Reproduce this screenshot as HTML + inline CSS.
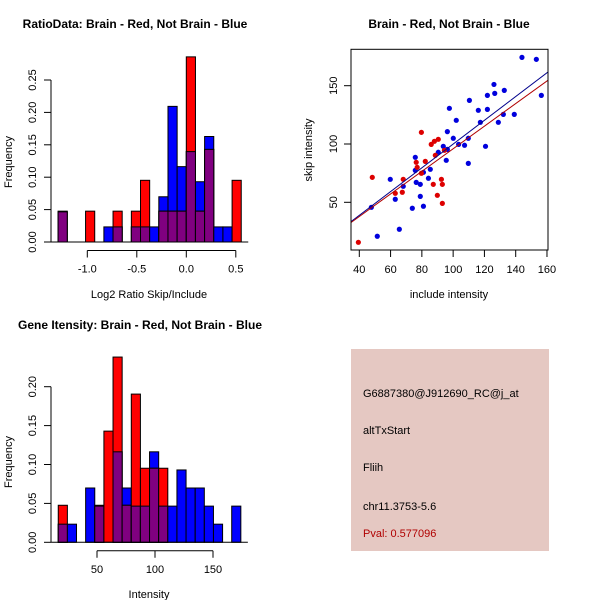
<!DOCTYPE html>
<html><head><meta charset="utf-8"><style>
body{margin:0;background:#fff;}
svg{display:block;font-family:"Liberation Sans",sans-serif;}
</style></head><body>
<svg id="c" width="600" height="600" viewBox="0 0 600 600">
<rect width="600" height="600" fill="#fff"/>
<text x="135" y="28" text-anchor="middle" font-size="12" font-weight="bold">RatioData: Brain - Red, Not Brain - Blue</text>
<text x="149" y="298" text-anchor="middle" font-size="11">Log2 Ratio Skip/Include</text>
<text transform="translate(12,162) rotate(-90)" text-anchor="middle" font-size="11">Frequency</text>
<text x="449" y="28" text-anchor="middle" font-size="12" font-weight="bold">Brain - Red, Not Brain - Blue</text>
<text x="449" y="298" text-anchor="middle" font-size="11">include intensity</text>
<text transform="translate(312,150) rotate(-90)" text-anchor="middle" font-size="11">skip intensity</text>
<text x="140" y="329" text-anchor="middle" font-size="12" font-weight="bold">Gene Itensity: Brain - Red, Not Brain - Blue</text>
<text x="149" y="598" text-anchor="middle" font-size="11">Intensity</text>
<text transform="translate(12,462) rotate(-90)" text-anchor="middle" font-size="11">Frequency</text>
<g>
<rect x="351" y="349" width="198" height="202" fill="#e5c8c2"/>
<text x="363" y="397" font-size="11">G6887380@J912690_RC@j_at</text>
<text x="363" y="434" font-size="11">altTxStart</text>
<text x="363" y="471" font-size="11">Fliih</text>
<text x="363" y="510" font-size="11">chr11.3753-5.6</text>
<text x="363" y="537" font-size="11" fill="#b00000">Pval: 0.577096</text>
</g>
</svg>
<script>
// Ratio histogram data (20 bins, -1.295 .. 0.555)
const ratioBinStart = -1.295;
const ratioBinWidth = 0.0925;
const ratioBlue = [0.0465,0,0,0,0,0.0233,0.0233,0,0.0233,0.0233,0.0233,0.0698,0.2093,0.1163,0.1395,0.0930,0.1628,0.0233,0.0233,0];
const ratioRed  = [0.0476,0,0,0.0476,0,0,0.0476,0,0.0476,0.0952,0,0.0476,0.0476,0.0476,0.2857,0.0476,0.1429,0,0,0.0952];
const ratioYTicks = [0,0.05,0.10,0.15,0.20,0.25];
const ratioYLabels = ["0.00","0.05","0.10","0.15","0.20","0.25"];
const ratioXTicks = [-1.0,-0.5,0.0,0.5];
const ratioXLabels = ["-1.0","-0.5","0.0","0.5"];
// Intensity histogram data
const intBinStart = 16.6;
const intBinWidth = 7.87;
const intBlue = [0.0233,0.0233,0,0.0698,0.0465,0,0.1163,0.0698,0.0465,0.0465,0.1163,0.0465,0.0465,0.0930,0.0698,0.0698,0.0465,0.0233,0,0.0465];
const intRed  = [0.0476,0,0,0,0.0476,0.1429,0.2381,0.0476,0.1905,0.0952,0.0952,0.0952,0,0,0,0,0,0,0,0];
const intYTicks = [0,0.05,0.10,0.15,0.20];
const intYLabels = ["0.00","0.05","0.10","0.15","0.20"];
const intXTicks = [50,100,150];
const intXLabels = ["50","100","150"];
// Scatter data
const blueX = [144.0,153.2,156.4,126.1,126.6,132.7,121.9,110.4,97.6,116.1,121.9,102,117.4,128.9,132.1,139.1,96.3,100.1,109.7,103.5,107.3,120.7,93.7,96.3,90.5,75.8,95.6,109.7,75.8,85.4,81,84.2,59.8,76.4,79,68.1,63,79,73.9,81,47.7,51.5,65.6];
const blueY = [174.3,172.6,141.7,151.1,143.4,146,141.7,137.4,130.6,128.9,129.7,120.3,118.6,118.6,125.4,125.4,110.6,104.9,104.9,99.7,98.9,98,98,95.4,92.9,88.6,86,83.4,77.4,78.3,75.7,70.6,69.7,67.1,65.4,63.7,52.6,55.1,44.9,46.6,45.7,20.9,26.9];
const redX = [39.4,48.3,79.7,90.5,88,86,88.6,82.2,76.4,77,79.7,68.1,92.5,87.3,93.1,63,67.5,89.9,93.1,94.4];
const redY = [15.7,71.4,110,104,102.3,99.7,90.3,85.1,84.3,80,74.9,69.7,69.7,65.4,65.4,57.7,58.6,56,49.1,94.6];
const fitBlue = [-1.96,1.019];
const fitRed = [-1.0,0.969];
const scXTicks = [40,60,80,100,120,140,160];
const scYTicks = [50,100,150];

const NS="http://www.w3.org/2000/svg";
const svg=document.getElementById('c');
function mk(tag,attrs,parent){const e=document.createElementNS(NS,tag);for(const k in attrs)e.setAttribute(k,attrs[k]);(parent||svg).appendChild(e);return e;}

function hist(g,bStart,bW,blue,red,xs,ys,yT,yL,xT,xL,yAxisTop,prefix){
  const n=blue.length;
  for(let i=0;i<n;i++){
    const x0=xs(bStart+i*bW), x1=xs(bStart+(i+1)*bW);
    const b=blue[i], r=red[i], m=Math.min(b,r);
    if(b>0){const e=mk('rect',{x:x0,y:ys(b),width:x1-x0,height:ys(0)-ys(b),fill:'#0000ff',stroke:'#000','stroke-width':1},g);
      
      }
    if(r>0){const e=mk('rect',{x:x0,y:ys(r),width:x1-x0,height:ys(0)-ys(r),fill:'#ff0000',stroke:'#000','stroke-width':1},g);
      
      }
    if(m>0){const e=mk('rect',{x:x0,y:ys(m),width:x1-x0,height:ys(0)-ys(m),fill:'#800080',stroke:'#000','stroke-width':1},g);
      
      }
  }
  mk('line',{x1:51,y1:ys(0),x2:xs(bStart+n*bW)+7,y2:ys(0),stroke:'#000'},g);
  // y axis
  mk('line',{x1:51,y1:ys(yT[0]),x2:51,y2:ys(yT[yT.length-1]),stroke:'#000'},g);
  yT.forEach((v,i)=>{mk('line',{x1:44,y1:ys(v),x2:51,y2:ys(v),stroke:'#000'},g);
    const t=mk('text',{transform:`translate(36,${ys(v)}) rotate(-90)`,'text-anchor':'middle','font-size':11},g);t.textContent=yL[i];
    
    });
  const ay=ys(0)+8.5;
  mk('line',{x1:xs(xT[0]),y1:ay,x2:xs(xT[xT.length-1]),y2:ay,stroke:'#000'},g);
  xT.forEach((v,i)=>{mk('line',{x1:xs(v),y1:ay,x2:xs(v),y2:ay+7,stroke:'#000'},g);
    const t=mk('text',{x:xs(v),y:ay+22,'text-anchor':'middle','font-size':11},g);t.textContent=xL[i];
    
    });
}
const g1=mk('g',{});


hist(g1,ratioBinStart,ratioBinWidth,ratioBlue,ratioRed,v=>87.3+(v+1)*99,v=>242-648*v,ratioYTicks,ratioYLabels,ratioXTicks,ratioXLabels,0,'ratio');
const g3=mk('g',{});


hist(g3,intBinStart,intBinWidth,intBlue,intRed,v=>97+(v-50)*1.16,v=>542.3-778*v,intYTicks,intYLabels,intXTicks,intXLabels,0,'intensity');

// scatter
const g2=mk('g',{});


const sx=v=>359.3+(v-40)*1.564, sy=v=>202.3-(v-50)*1.166;
mk('clipPath',{id:'clip'},g2);
mk('rect',{x:351,y:49.3,width:197,height:200.7},document.getElementById('clip'));
blueX.forEach((v,i)=>{const e=mk('circle',{cx:sx(v),cy:sy(blueY[i]),r:2.6,fill:'#0000dd'},g2);
  
  });
redX.forEach((v,i)=>{const e=mk('circle',{cx:sx(v),cy:sy(redY[i]),r:2.6,fill:'#dd0000'},g2);
  
  });
[[fitBlue,'#00008b','blue-fit-line'],[fitRed,'#b00000','red-fit-line']].forEach(([f,c,n])=>{
  const xa=30,xb=170;const e=mk('line',{x1:sx(xa),y1:sy(f[0]+f[1]*xa),x2:sx(xb),y2:sy(f[0]+f[1]*xb),stroke:c,'stroke-width':1,'clip-path':'url(#clip)'},g2);
  
  });
mk('rect',{x:351,y:49.3,width:197,height:200.7,fill:'none',stroke:'#000'},g2);
scXTicks.forEach(v=>{mk('line',{x1:sx(v),y1:250,x2:sx(v),y2:257,stroke:'#000'},g2);
  const t=mk('text',{x:sx(v),y:273,'text-anchor':'middle','font-size':11},g2);t.textContent=String(v);
  
  });
scYTicks.forEach(v=>{mk('line',{x1:344,y1:sy(v),x2:351,y2:sy(v),stroke:'#000'},g2);
  const t=mk('text',{transform:`translate(337,${sy(v)}) rotate(-90)`,'text-anchor':'middle','font-size':11},g2);t.textContent=String(v);
  
  });
</script>
</body></html>
